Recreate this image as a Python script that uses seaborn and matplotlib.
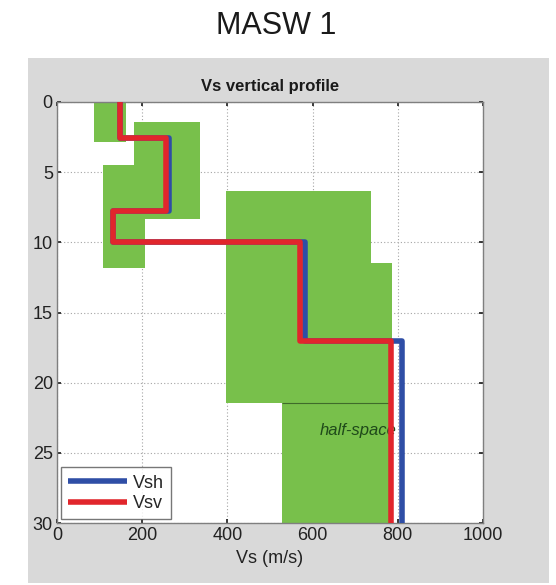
import numpy as np
import pandas as pd
import matplotlib
matplotlib.use("Agg")
import matplotlib.pyplot as plt
import seaborn as sns
from matplotlib.patches import Rectangle

# --- layer model ---
layer_tops = [0.0, 2.57, 7.8, 10.0, 17.0]
bottom_depth = 30.0
vsh = [147, 263, 131, 581, 811]
vsv = [147, 255, 131, 570, 785]

# green search-range boxes: (vs_min, vs_max, depth_top, depth_bottom)
box_vs_min = [87, 108, 180, 397, 397]
box_vs_max = [161, 207, 336, 738, 787]
box_z_top = [0.0, 4.5, 1.45, 6.32, 11.47]
box_z_bot = [2.85, 11.83, 8.34, 21.45, 21.45]

# half-space box
hs_vs_min, hs_vs_max = 529, 781
hs_z_top, hs_z_bot = 21.45, 30.0

x_ticks = [0, 200, 400, 600, 800, 1000]
y_ticks = [0, 5, 10, 15, 20, 25, 30]

GREEN = "#78c04b"
BLUE = "#2f4ea6"
RED = "#e1262c"


def step_profile(tops, vals, zmax):
    """Turn layer values into a staircase (x, depth) path."""
    xs, zs = [], []
    edges = list(tops) + [zmax]
    for i, v in enumerate(vals):
        xs += [v, v]
        zs += [edges[i], edges[i + 1]]
    return xs, zs


rows = []
for name, vals in [("Vsh", vsh), ("Vsv", vsv)]:
    xs, zs = step_profile(layer_tops, vals, bottom_depth)
    for k, (x, z) in enumerate(zip(xs, zs)):
        rows.append({"Vs": x, "depth": z, "wave": name, "order": k})
df = pd.DataFrame(rows)

sns.set_theme(style="white")
plt.rcParams["font.family"] = ["Liberation Sans", "DejaVu Sans"]

fig = plt.figure(figsize=(5.56, 5.85), dpi=100)
fig.patch.set_facecolor("white")
# grey panel behind the axes
fig.patches.append(Rectangle((28 / 556, 1 - 583 / 585), (549 - 28) / 556, (583 - 58) / 585,
                             transform=fig.transFigure, facecolor="#d9d9d9",
                             edgecolor="none", zorder=-10))
fig.text(276 / 556, 1 - 26 / 585, "MASW 1", ha="center", va="center",
         fontsize=22, color="#1a1a1a")

ax = fig.add_axes([57 / 556, 1 - 523 / 585, 426 / 556, 421 / 585])
ax.set_facecolor("white")

for x0, x1, z0, z1 in zip(box_vs_min, box_vs_max, box_z_top, box_z_bot):
    ax.add_patch(Rectangle((x0, z0), x1 - x0, z1 - z0, facecolor=GREEN,
                           edgecolor="none", zorder=1))
ax.add_patch(Rectangle((hs_vs_min, hs_z_top), hs_vs_max - hs_vs_min, hs_z_bot - hs_z_top,
                       facecolor=GREEN, edgecolor="none", zorder=1))
ax.hlines(hs_z_top, hs_vs_min, hs_vs_max, color="#3f6b2a", lw=0.8, zorder=1.5)

sns.lineplot(data=df, x="Vs", y="depth", hue="wave", sort=False, estimator=None,
             units="wave", palette={"Vsh": BLUE, "Vsv": RED}, linewidth=4,
             ax=ax, zorder=3, legend=True)
for ln in ax.lines:
    ln.set_solid_joinstyle("round")
    ln.set_solid_capstyle("butt")

ax.text(617, 23.4, "half-space", fontstyle="italic", fontsize=12,
        color="#1f4a1a", va="center", ha="left", zorder=2)

ax.set_xlim(0, 1000)
ax.set_ylim(30, 0)
ax.set_xticks(x_ticks)
ax.set_yticks(y_ticks)
ax.tick_params(axis="both", labelsize=13, colors="#222222", direction="in",
               length=3, pad=3, left=True, bottom=True, top=True, right=True)
ax.grid(True, color="#a5a5a5", linestyle=(0, (1, 2)), linewidth=0.8)
ax.set_axisbelow(True)
for s in ax.spines.values():
    s.set_color("#7f7f7f")
    s.set_linewidth(1.0)

ax.set_xlabel("Vs (m/s)", fontsize=13, color="#222222", labelpad=4)
ax.set_ylabel("")
ax.set_title("Vs vertical profile", fontsize=12, fontweight="bold", color="#1a1a1a", pad=8)

leg = ax.legend(loc="lower left", fontsize=13, handlelength=3.3, frameon=True,
                fancybox=False, borderaxespad=0.2, labelspacing=0.2,
                handletextpad=0.3, borderpad=0.4)
leg.get_frame().set_edgecolor("#555555")
leg.get_frame().set_linewidth(1.0)
leg.set_title(None)
for h in leg.get_lines():
    h.set_linewidth(4)

fig.savefig("out.png", dpi=100)
